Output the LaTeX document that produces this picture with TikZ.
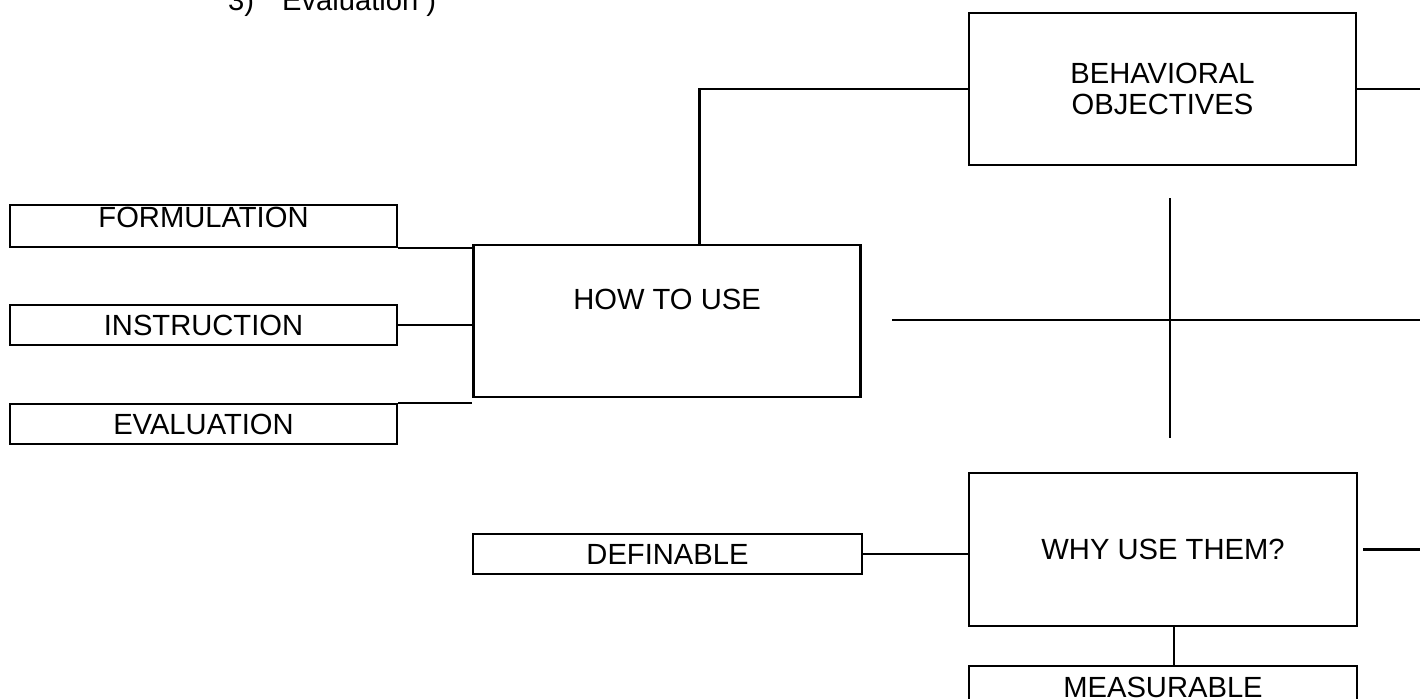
\documentclass[tikz,border=0pt]{standalone}
\usepackage{fontspec}
\setmainfont{Liberation Sans}
\usetikzlibrary{positioning}

\begin{document}
\begin{tikzpicture}[line width=0.6pt,
    bigbox/.style={draw, minimum width=3.87cm, minimum height=1.52cm, inner sep=0pt, align=center, font=\fontsize{8.3}{8.6}\selectfont},
    slimbox/.style={draw, minimum width=3.87cm, minimum height=0.4cm, inner sep=0pt, font=\fontsize{8.3}{10}\selectfont}]
        \useasboundingbox (0,0) rectangle (14.2,-6.98);
        \coordinate (edge) at (14.2,0);
        % note at the top, cut by the page
        \node[anchor=base west, inner sep=0pt, font=\fontsize{8.3}{10}\selectfont] (note) at (2.27,-0.10) {3)\hspace{8pt}Evaluation )};
        % left column
        \node[slimbox, minimum height=0.42cm, text depth=0.18cm] (form) at (2.035,-2.26) {FORMULATION};
        \node[slimbox, below=0.56cm of form] (instr) {INSTRUCTION};
        \node[slimbox, below=0.57cm of instr] (eval) {EVALUATION};
        % middle
        \node[bigbox, text depth=0.44cm] (how) at (6.67,-3.21) {HOW TO USE};
        \node[slimbox, minimum width=3.89cm] (defin) at (6.675,-5.54) {DEFINABLE};
        % right column
        \node[bigbox] (beh) at (11.625,-0.89) {BEHAVIORAL\\OBJECTIVES};
        \node[bigbox, minimum width=3.88cm, minimum height=1.53cm] (why) at (11.63,-5.495) {WHY USE THEM?};
        \node[slimbox, minimum width=3.88cm, minimum height=0.42cm, below=0.38cm of why] (meas) {MEASURABLE};
        % cross
        \coordinate (crossL) at (8.92,-3.20);
        \coordinate (crossT) at (11.70,-1.98);
        \coordinate (crossB) at (11.70,-4.38);
        \draw (crossL) -- (crossL -| edge);
        \draw (crossT) -- (crossB);
        % connectors
        \draw (form.south east) -- (form.south east -| how.west);
        \draw (instr.east) -- (instr.east -| how.west);
        \draw (eval.north east) -- (eval.north east -| how.west);
        \draw (beh.west) -| ([xshift=2.27cm]how.north west);
        \draw (beh.east) -- (beh.east -| edge);
        \draw (defin.east) -- (defin.east -| why.west);
        \draw ([xshift=0.05cm]why.east) -- (why.east -| edge);
        \draw ([xshift=0.11cm]why.south) -- ([xshift=0.11cm]meas.north);
      \end{tikzpicture}
\end{document}
